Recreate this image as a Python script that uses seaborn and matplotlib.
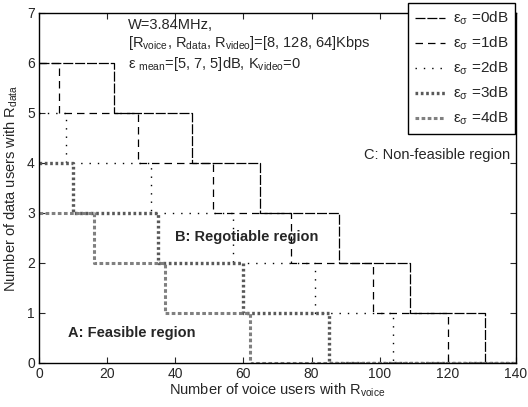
import matplotlib
matplotlib.use("Agg")
import matplotlib.pyplot as plt
import seaborn as sns
import pandas as pd

# ---- data: step boundaries (voice users where max data users drops) ----
voice_0dB = [0, 22, 45, 65, 88, 109, 131, 140]
data_0dB = [6, 5, 4, 3, 2, 1, 0, 0]
voice_1dB = [0, 6, 29, 51, 74, 98, 120, 140]
data_1dB = [6, 5, 4, 3, 2, 1, 0, 0]
voice_2dB = [0, 8, 33, 57, 81, 104, 140]
data_2dB = [5, 4, 3, 2, 1, 0, 0]
voice_3dB = [0, 10, 35, 60, 85, 140]
data_3dB = [4, 3, 2, 1, 0, 0]
voice_4dB = [0, 16, 37, 62, 140]
data_4dB = [3, 2, 1, 0, 0]
labels = ["0dB", "1dB", "2dB", "3dB", "4dB"]
x_ticks = [0, 20, 40, 60, 80, 100, 120, 140]
y_ticks = [0, 1, 2, 3, 4, 5, 6, 7]

sns.set_style("ticks")
plt.rcParams["font.family"] = ["Liberation Sans", "DejaVu Sans"]
plt.rcParams["mathtext.fontset"] = "custom"
plt.rcParams["mathtext.rm"] = "Liberation Sans"
plt.rcParams["mathtext.it"] = "Liberation Sans:italic"

fig = plt.figure(figsize=(5.28, 4.07), dpi=100)
ax = fig.add_axes([39 / 528, 1 - 363 / 407, 477 / 528, 350 / 407])

series = [
    (voice_0dB, data_0dB, dict(color="k", linestyle=(0, (8, 1.5)), linewidth=0.9)),
    (voice_1dB, data_1dB, dict(color="k", linestyle=(0, (6, 4)), linewidth=0.9)),
    (voice_2dB, data_2dB, dict(color="k", linestyle=(0, (1, 5)), linewidth=1.0)),
    (voice_3dB, data_3dB, dict(color="0.35", linestyle=(0, (0.8, 0.8)), linewidth=2.4)),
    (voice_4dB, data_4dB, dict(color="0.5", linestyle=(0, (1.2, 0.8)), linewidth=2.2)),
]
for (xs, ys, kw), lab in zip(series, labels):
    df = pd.DataFrame({"voice": xs, "data": ys})
    sns.lineplot(data=df, x="voice", y="data", ax=ax, estimator=None, sort=False,
                 drawstyle="steps-post", label=r"$\mathregular{ε_{σ}}$ =" + lab, **kw)

ax.set_xlim(0, 140)
ax.set_ylim(0, 7)
ax.set_xticks(x_ticks)
ax.set_yticks(y_ticks)
ax.tick_params(direction="in", top=True, right=True, length=4, labelsize=10, width=0.8, pad=3)
for s in ax.spines.values():
    s.set_linewidth(1.0)
    s.set_color("k")

ax.set_xlabel(r"Number of voice users with $\mathregular{R_{voice}}$", fontsize=10.5, labelpad=0)
ax.set_ylabel(r"Number of data users with $\mathregular{R_{data}}$", fontsize=10.5, labelpad=5)

ax.text(26, 6.76, "W=3.84MHz,", fontsize=10.5, va="center")
ax.text(26, 6.40, r"[$\mathregular{R_{voice}}$, $\mathregular{R_{data}}$, $\mathregular{R_{video}}$]=[8, 128, 64]Kbps",
        fontsize=10.5, va="center")
ax.text(26, 5.98, r"$\mathregular{ε\ _{mean}}$=[5, 7, 5]dB, $\mathregular{K_{video}}$=0", fontsize=10.5, va="center")
ax.text(95.5, 4.16, "C: Non-feasible region", fontsize=10.5, va="center")
ax.text(40, 2.52, "B: Regotiable region", fontsize=10.5, va="center", fontweight="bold")
ax.text(8.5, 0.6, "A: Feasible region", fontsize=10.5, va="center", fontweight="bold")

leg = ax.legend(loc="upper right", bbox_to_anchor=(515 / 528, 1 - 3 / 407),
                bbox_transform=fig.transFigure, fontsize=11, frameon=True, fancybox=False,
                edgecolor="k", framealpha=1, handlelength=2.0, labelspacing=0.5,
                borderpad=0.45, handletextpad=0.5, borderaxespad=0)
leg.get_frame().set_linewidth(1.0)

fig.savefig("out.png", dpi=100)
